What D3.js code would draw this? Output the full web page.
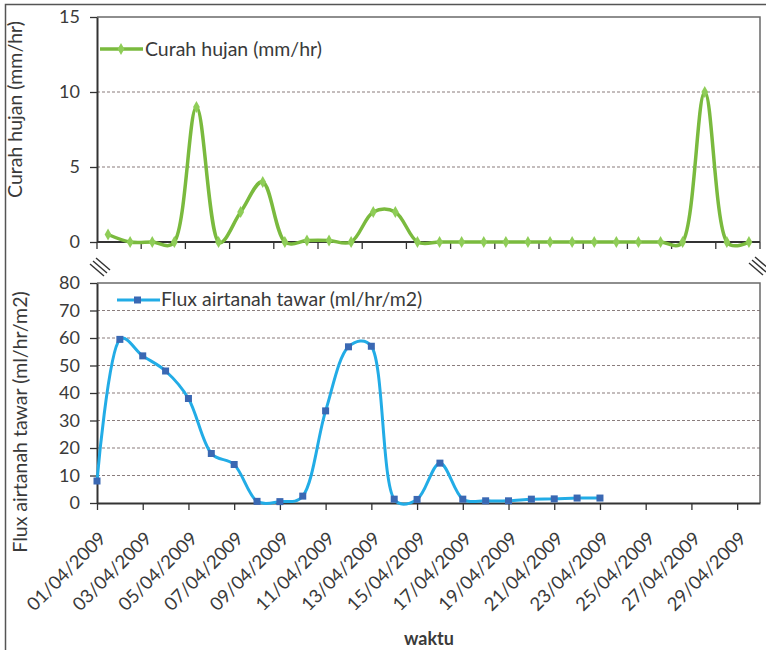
<!DOCTYPE html>
<html>
<head>
<meta charset="utf-8">
<script src="https://cdn.jsdelivr.net/npm/d3@7"></script>
<style>
  body { margin: 0; background: #fff; }
  text { font-family: Lato, "Open Sans", sans-serif; fill: #3a3a3a; }
</style>
</head>
<body>
<svg id="chart" width="766" height="650"></svg>
<script>
// Daily rainfall, 1–30 April 2009 (mm/hr)
const rainDates = ["01/04/2009","02/04/2009","03/04/2009","04/04/2009","05/04/2009","06/04/2009",
  "07/04/2009","08/04/2009","09/04/2009","10/04/2009","11/04/2009","12/04/2009","13/04/2009",
  "14/04/2009","15/04/2009","16/04/2009","17/04/2009","18/04/2009","19/04/2009","20/04/2009",
  "21/04/2009","22/04/2009","23/04/2009","24/04/2009","25/04/2009","26/04/2009","27/04/2009",
  "28/04/2009","29/04/2009","30/04/2009"];
const rainfall = [0.5, 0, 0, 0, 9, 0, 2, 4, 0, 0.1, 0.1, 0, 2, 2, 0,
  0, 0, 0, 0, 0, 0, 0, 0, 0, 0, 0, 0, 10, 0, 0];

// Fresh groundwater flux, 1–23 April 2009 (ml/hr/m2)
const fluxDates = rainDates.slice(0, 23);
const flux = [8, 59.5, 53.5, 48, 38, 18, 14, 0.6, 0.5, 2.5, 33.5, 56.8, 57, 1.4,
  1.3, 14.5, 1.4, 0.8, 0.8, 1.4, 1.5, 1.8, 1.8];

const dateTicks = ["01/04/2009","03/04/2009","05/04/2009","07/04/2009","09/04/2009",
  "11/04/2009","13/04/2009","15/04/2009","17/04/2009","19/04/2009","21/04/2009",
  "23/04/2009","25/04/2009","27/04/2009","29/04/2009"];
const rainTicks = [0, 5, 10, 15];
const fluxTicks = [0, 10, 20, 30, 40, 50, 60, 70, 80];

const parse = d3.timeParse("%d/%m/%Y");
const fmt = d3.timeFormat("%d/%m/%Y");

const svg = d3.select("#chart");
const L = 97, R = 760;
const top1 = 17, bot1 = 242;
const top2 = 283, bot2 = 503;

const GRID = "#8a7d7d", AXIS = "#333", BORDER = "#6a6a6a";
const GREEN = "#7aba3e", GREEN_MK = "#8fcd58";
const BLUE = "#22ace6", BLUE_MK = "#3a68b3";
const LABEL_SIZE = "19.5px", TICK_SIZE = "18px";

// outer frame
svg.append("path").attr("d", `M5.5,650 V4.5 H766`).attr("fill", "none")
  .attr("stroke", "#555").attr("stroke-width", 1.5);

const curve = d3.curveCatmullRom.alpha(0.35);

// ---------- rainfall panel ----------
const xBand = d3.scaleBand().domain(rainDates).range([L, R]);
const yRain = d3.scaleLinear().domain([0, 15]).range([bot1, top1]);

const g1 = svg.append("g");
g1.selectAll("line.grid").data(rainTicks.filter(v => v > 0 && v < 15)).join("line")
  .attr("x1", L).attr("x2", R).attr("y1", d => yRain(d)).attr("y2", d => yRain(d))
  .attr("stroke", GRID).attr("stroke-width", 1.2).attr("stroke-dasharray", "3,2");
// plot border (top / right)
g1.append("path").attr("d", `M${L},${yRain(15)} H${R} V${bot1}`)
  .attr("fill", "none").attr("stroke", BORDER).attr("stroke-width", 1.5);

g1.append("g").attr("transform", `translate(${L},0)`)
  .call(d3.axisLeft(yRain).tickValues(rainTicks).tickSize(7).tickSizeOuter(0).tickPadding(10));
// category tick marks every two days on the bottom axis
const bandTicks = rainDates.filter((d, i) => i % 2 === 0).map(d => xBand(d)).concat([R]);
g1.selectAll("line.xt").data(bandTicks).join("line")
  .attr("x1", d => d).attr("x2", d => d).attr("y1", bot1).attr("y2", bot1 + 7)
  .attr("stroke", AXIS).attr("stroke-width", 1.3);
g1.append("line").attr("x1", L).attr("x2", R).attr("y1", bot1).attr("y2", bot1)
  .attr("stroke", AXIS).attr("stroke-width", 2);

const rainPts = rainDates.map((d, i) => [xBand(d) + xBand.bandwidth() / 2, yRain(rainfall[i])]);
g1.append("path").attr("d", d3.line().curve(curve)(rainPts))
  .attr("fill", "none").attr("stroke", GREEN).attr("stroke-width", 3.5);
g1.selectAll("path.mk").data(rainPts).join("path")
  .attr("transform", d => `translate(${d[0]},${d[1]})`)
  .attr("d", d3.symbol(d3.symbolDiamond, 40)).attr("fill", GREEN_MK);

// legend
g1.append("line").attr("x1", 100).attr("x2", 143).attr("y1", 49).attr("y2", 49)
  .attr("stroke", GREEN).attr("stroke-width", 3.5);
g1.append("path").attr("transform", "translate(121,49)")
  .attr("d", d3.symbol(d3.symbolDiamond, 40)).attr("fill", GREEN_MK);
g1.append("text").attr("x", 145).attr("y", 49).attr("dy", "0.35em")
  .style("font-size", LABEL_SIZE).text("Curah hujan (mm/hr)");

g1.append("text").attr("transform", `translate(22,${(top1 + bot1) / 2 - 20}) rotate(-90)`)
  .attr("text-anchor", "middle").style("font-size", LABEL_SIZE).text("Curah hujan (mm/hr)");

// ---------- groundwater flux panel ----------
const xTime = d3.scaleTime().domain([parse("01/04/2009"), parse("30/04/2009")]).range([L, R]);
const yFlux = d3.scaleLinear().domain([0, 80]).range([bot2, top2]);

const g2 = svg.append("g");
g2.selectAll("line.grid").data(fluxTicks.filter(v => v > 0 && v < 80)).join("line")
  .attr("x1", L).attr("x2", R).attr("y1", d => yFlux(d)).attr("y2", d => yFlux(d))
  .attr("stroke", GRID).attr("stroke-width", 1.2).attr("stroke-dasharray", "3,2");
g2.append("path").attr("d", `M${L},${yFlux(80)} H${R} V${bot2}`)
  .attr("fill", "none").attr("stroke", BORDER).attr("stroke-width", 1.5);

g2.append("g").attr("transform", `translate(${L},0)`)
  .call(d3.axisLeft(yFlux).tickValues(fluxTicks).tickSize(7).tickSizeOuter(0).tickPadding(10));

const xAx = g2.append("g").attr("transform", `translate(0,${bot2})`)
  .call(d3.axisBottom(xTime).tickValues(dateTicks.map(parse)).tickSize(7)
    .tickSizeOuter(0).tickFormat(fmt));

const fluxPts = fluxDates.map((d, i) => [xTime(parse(d)), yFlux(flux[i])]);
g2.append("path").attr("d", d3.line().curve(curve)(fluxPts))
  .attr("fill", "none").attr("stroke", BLUE).attr("stroke-width", 3);
g2.selectAll("rect.mk").data(fluxPts).join("rect")
  .attr("x", d => d[0] - 3.5).attr("y", d => d[1] - 3.5)
  .attr("width", 7).attr("height", 7).attr("fill", BLUE_MK);

g2.append("line").attr("x1", 117).attr("x2", 160).attr("y1", 300).attr("y2", 300)
  .attr("stroke", BLUE).attr("stroke-width", 3);
g2.append("rect").attr("x", 134).attr("y", 296.5).attr("width", 7).attr("height", 7)
  .attr("fill", BLUE_MK);
g2.append("text").attr("x", 161).attr("y", 299).attr("dy", "0.35em")
  .style("font-size", LABEL_SIZE).text("Flux airtanah tawar (ml/hr/m2)");

g2.append("text").attr("transform", `translate(27,422) rotate(-90)`)
  .attr("text-anchor", "middle").style("font-size", LABEL_SIZE).text("Flux airtanah tawar (ml/hr/m2)");

g2.append("text").attr("x", 429).attr("y", 645).attr("text-anchor", "middle")
  .style("font-size", "18px").style("font-weight", "bold").text("waktu");

// axis styling
svg.selectAll(".tick text").style("font-size", TICK_SIZE).attr("fill", "#3a3a3a");
svg.selectAll(".tick line").attr("stroke", AXIS).attr("stroke-width", 1.3);
svg.selectAll(".domain").attr("stroke", AXIS).attr("stroke-width", 2);

// rotated date labels, their ends hanging below each tick
xAx.selectAll(".tick text")
  .attr("x", 0).attr("y", 0).attr("dy", "0.35em")
  .attr("text-anchor", "end")
  .attr("transform", "translate(5,32) rotate(-45)")
  .style("font-size", "18.5px");

// axis break marks between the panels
[[100, 267], [759, 266]].forEach(([cx, cy]) => {
  [-3, 0, 3].forEach(o => {
    svg.append("line")
      .attr("x1", cx - 7 + o).attr("y1", cy - 6 - o)
      .attr("x2", cx + 7 + o).attr("y2", cy + 6 - o)
      .attr("stroke", "#333").attr("stroke-width", 1.4);
  });
});
</script>
</body>
</html>
